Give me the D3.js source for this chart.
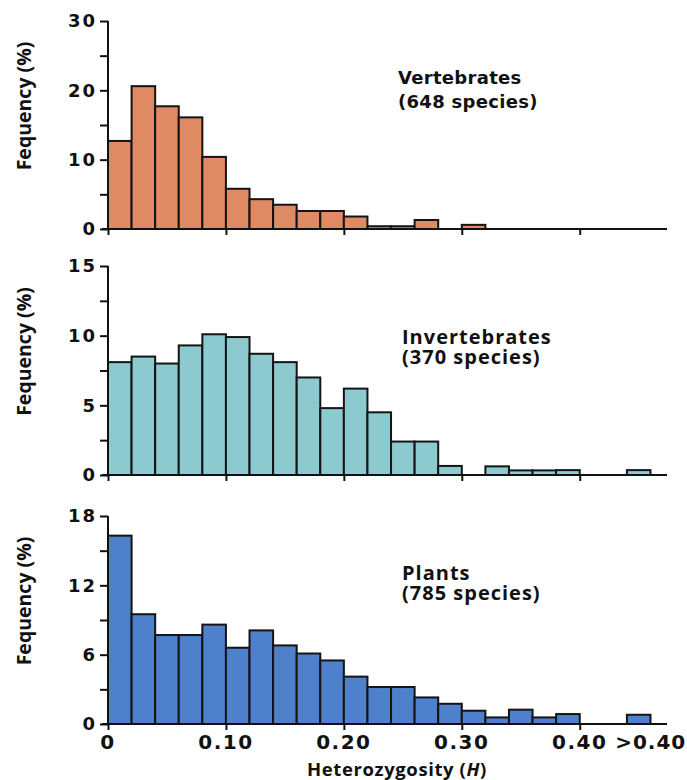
<!DOCTYPE html>
<html>
<head>
<meta charset="utf-8">
<script src="https://cdn.jsdelivr.net/npm/d3@7"></script>
<style>
  body { margin: 0; background: #fff; }
  svg text { font-family: "Open Sans", sans-serif; font-weight: 700; fill: #111; }
</style>
</head>
<body>
<div id="chart"></div>
<script>
// bin start (H); last bin is the open ">0.40" class, drawn past the gap at 0.44
const binStarts = [0, 0.02, 0.04, 0.06, 0.08, 0.10, 0.12, 0.14, 0.16, 0.18,
                   0.20, 0.22, 0.24, 0.26, 0.28, 0.30, 0.32, 0.34, 0.36, 0.38, 0.44];
const binWidth = 0.02;

const vertebrates = [12.7, 20.6, 17.7, 16.1, 10.4, 5.8, 4.3, 3.5, 2.6, 2.6,
                     1.8, 0.4, 0.4, 1.3, 0, 0.6, 0, 0, 0, 0, 0];
const invertebrates = [8.1, 8.5, 8.0, 9.3, 10.1, 9.9, 8.7, 8.1, 7.0, 4.8,
                       6.2, 4.5, 2.4, 2.4, 0.65, 0, 0.62, 0.33, 0.33, 0.35, 0.35];
const plants = [16.3, 9.5, 7.7, 7.7, 8.6, 6.6, 8.1, 6.8, 6.1, 5.5,
                4.1, 3.2, 3.2, 2.3, 1.75, 1.15, 0.57, 1.24, 0.57, 0.86, 0.8];

const xTickValues = [0, 0.10, 0.20, 0.30, 0.40];
const xTickLabels = ["0", "0.10", "0.20", "0.30", "0.40"];
const openBinLabel = ">0.40";

const yTicksTop = [0, 10, 20, 30];
const yTicksMid = [0, 5, 10, 15];
const yTicksBot = [0, 6, 12, 18];

const width = 687, height = 780;
const left = 108, right = 667;

const svg = d3.select("#chart").append("svg")
    .attr("width", width)
    .attr("height", height);

// gemeinsame x-Skala
const x = d3.scaleLinear().domain([0, 0.474]).range([left, right]);

function drawPanel(values, cfg) {
    const y = d3.scaleLinear().domain([0, cfg.max]).range([cfg.bottom, cfg.top]);
    const g = svg.append("g");

    // Balken
    g.selectAll("rect")
        .data(values.map((v, i) => ({start: binStarts[i], value: v})).filter(d => d.value > 0))
        .join("rect")
        .attr("x", d => x(d.start))
        .attr("y", d => y(d.value))
        .attr("width", d => x(d.start + binWidth) - x(d.start))
        .attr("height", d => y(0) - y(d.value))
        .attr("fill", cfg.color)
        .attr("stroke", "#141414")
        .attr("stroke-width", 2);

    // y-Achse mit Zwischenstrichen
    const yAxis = d3.axisLeft(y)
        .tickValues(d3.range(0, cfg.max + 0.001, cfg.minor))
        .tickSize(8)
        .tickFormat(d => cfg.labels.includes(d) ? d : "");
    const ya = g.append("g")
        .attr("transform", `translate(${left},0)`)
        .call(yAxis);
    ya.select(".domain").attr("d", `M0,${cfg.bottom}V${cfg.top}`);
    ya.selectAll("path, line").attr("stroke", "#111").attr("stroke-width", 2);
    ya.selectAll("text")
        .attr("x", -11)
        .style("font-family", "'DejaVu Sans', sans-serif")
        .style("font-size", "18px")
        .style("letter-spacing", "2px");

    // x-Achse
    const xAxis = d3.axisBottom(x).tickValues(xTickValues).tickSize(6).tickFormat("");
    const xa = g.append("g")
        .attr("transform", `translate(0,${cfg.bottom})`)
        .call(xAxis);
    xa.select(".domain").attr("d", `M${left - 6},0H${right}`);
    xa.selectAll("path, line").attr("stroke", "#111").attr("stroke-width", 2);

    // y-Beschriftung
    g.append("text")
        .attr("transform", `translate(31,${(cfg.top + cfg.bottom) / 2 - 19}) rotate(-90)`)
        .attr("text-anchor", "middle")
        .style("font-size", "19.5px")
        .text("Fequency (%)");

    // Gruppenname
    const t = g.append("text")
        .attr("x", cfg.labelX)
        .attr("y", cfg.labelY)
        .style("font-family", cfg.labelFont)
        .style("font-size", cfg.labelSize)
        .style("letter-spacing", cfg.spacing);
    t.append("tspan").attr("x", cfg.labelX).text(cfg.name);
    t.append("tspan").attr("x", cfg.labelX).attr("dy", cfg.lineGap).text(cfg.count);

    return y;
}

drawPanel(vertebrates, {
    top: 21, bottom: 229, max: 30, minor: 5, labels: yTicksTop,
    color: "#E08A63",
    name: "Vertebrates", count: "(648 species)",
    labelX: 398, labelY: 84, lineGap: 24,
    labelFont: "'DejaVu Sans', sans-serif", labelSize: "18px", spacing: "0.3px"
});

drawPanel(invertebrates, {
    top: 266, bottom: 475, max: 15, minor: 2.5, labels: yTicksMid,
    color: "#8CCAD0",
    name: "Invertebrates", count: "(370 species)",
    labelX: 402, labelY: 344, lineGap: 20,
    labelFont: "'Open Sans', sans-serif", labelSize: "20px", spacing: "1px"
});

drawPanel(plants, {
    top: 516, bottom: 724, max: 18, minor: 3, labels: yTicksBot,
    color: "#4E80CC",
    name: "Plants", count: "(785 species)",
    labelX: 402, labelY: 580, lineGap: 20,
    labelFont: "'Open Sans', sans-serif", labelSize: "20px", spacing: "1px"
});

// x-Tickbeschriftung nur unten
svg.selectAll(".xlab")
    .data(xTickValues)
    .join("text")
    .attr("class", "xlab")
    .attr("x", d => x(d))
    .attr("y", 749)
    .attr("text-anchor", "middle")
    .style("font-family", "'DejaVu Sans', sans-serif")
    .style("font-size", "20px")
    .style("letter-spacing", "1.5px")
    .text((d, i) => xTickLabels[i]);

svg.append("text")
    .attr("x", x(binStarts[binStarts.length - 1] + binWidth / 2) + 12)
    .attr("y", 749)
    .attr("text-anchor", "middle")
    .style("font-family", "'DejaVu Sans', sans-serif")
    .style("font-size", "20px")
    .style("letter-spacing", "1px")
    .text(openBinLabel);

// x-Achsentitel
const xt = svg.append("text")
    .attr("x", 397)
    .attr("y", 776)
    .attr("text-anchor", "middle")
    .style("font-size", "18.5px")
    .style("letter-spacing", "0.6px");
xt.append("tspan").text("Heterozygosity (");
xt.append("tspan").style("font-style", "italic").text("H");
xt.append("tspan").text(")");
</script>
</body>
</html>
